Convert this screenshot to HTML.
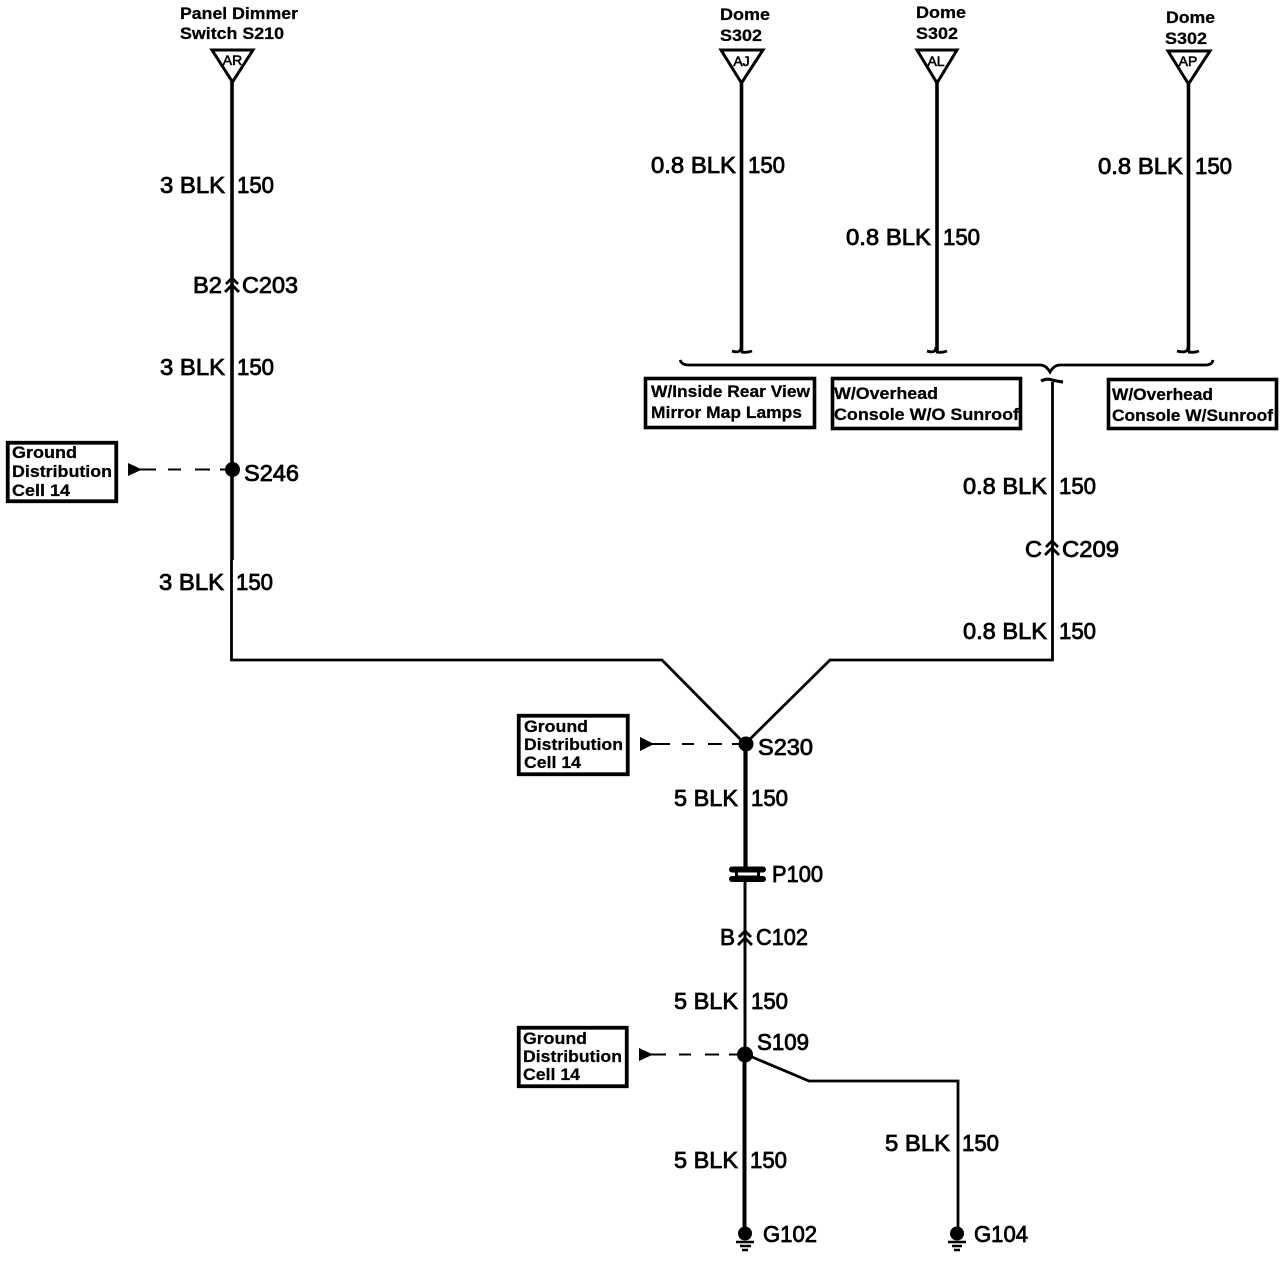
<!DOCTYPE html>
<html><head><meta charset="utf-8"><style>
html,body{margin:0;padding:0;background:#fff}
svg{display:block}
text{font-family:"Liberation Sans",sans-serif;fill:#000}
.m{font-size:23px;stroke:#000;stroke-width:.8}
.s{font-size:17px;font-weight:bold;stroke:#000;stroke-width:.25}
.t{font-size:14px;stroke:#000;stroke-width:.6}
.w{fill:none;stroke:#000;stroke-linejoin:miter}
</style></head><body>
<svg width="1284" height="1264" viewBox="0 0 1284 1264" xmlns="http://www.w3.org/2000/svg">
<rect width="1284" height="1264" fill="#fff"/>

<!-- wires -->
<path class="w" stroke-width="2.800" d="M231.500 560V660H662L745 744L830 660H1052.500V382"/>
<path class="w" stroke-width="3.600" d="M232 80V560"/>
<path class="w" stroke-width="3.600" d="M741.500 82V352M937 82V352M1188.500 84V352"/>
<path class="w" stroke-width="4.200" d="M745.500 744V868"/>
<path class="w" stroke-width="3" d="M745 880V1054"/>
<path class="w" stroke-width="4" d="M744.500 1054V1228"/>
<path class="w" stroke-width="2.800" d="M745 1054L809 1081H958V1228"/>

<!-- triangles -->
<path class="w" stroke-width="3" d="M212 50H253L232.500 82ZM721 50H763L741.500 83ZM917 50H957L937 83ZM1168 51H1210L1188.500 84Z"/>
<text class="t" x="232.500" y="65" text-anchor="middle">AR</text>
<text class="t" x="741.500" y="66" text-anchor="middle">AJ</text>
<text class="t" x="936" y="66" text-anchor="middle">AL</text>
<text class="t" x="1188" y="66" text-anchor="middle">AP</text>

<!-- top labels -->
<text class="s" x="180" y="19" textLength="118" lengthAdjust="spacingAndGlyphs">Panel Dimmer</text>
<text class="s" x="180" y="39" textLength="104" lengthAdjust="spacingAndGlyphs">Switch S210</text>
<text class="s" x="720" y="20" textLength="50" lengthAdjust="spacingAndGlyphs">Dome</text>
<text class="s" x="720" y="41" textLength="42" lengthAdjust="spacingAndGlyphs">S302</text>
<text class="s" x="916" y="18" textLength="50" lengthAdjust="spacingAndGlyphs">Dome</text>
<text class="s" x="916" y="39" textLength="42" lengthAdjust="spacingAndGlyphs">S302</text>
<text class="s" x="1166" y="23" textLength="49" lengthAdjust="spacingAndGlyphs">Dome</text>
<text class="s" x="1165" y="44" textLength="42" lengthAdjust="spacingAndGlyphs">S302</text>

<!-- wire labels -->
<text class="m" x="160" y="193" textLength="65" lengthAdjust="spacingAndGlyphs">3 BLK</text>
<text class="m" x="237" y="193" textLength="37" lengthAdjust="spacingAndGlyphs">150</text>
<text class="m" x="193" y="293" textLength="29" lengthAdjust="spacingAndGlyphs">B2</text>
<text class="m" x="242" y="293" textLength="56" lengthAdjust="spacingAndGlyphs">C203</text>
<text class="m" x="160" y="375" textLength="65" lengthAdjust="spacingAndGlyphs">3 BLK</text>
<text class="m" x="237" y="375" textLength="37" lengthAdjust="spacingAndGlyphs">150</text>
<text class="m" x="244" y="481" textLength="55" lengthAdjust="spacingAndGlyphs">S246</text>
<text class="m" x="159" y="590" textLength="65" lengthAdjust="spacingAndGlyphs">3 BLK</text>
<text class="m" x="236" y="590" textLength="37" lengthAdjust="spacingAndGlyphs">150</text>
<text class="m" x="651" y="173" textLength="85" lengthAdjust="spacingAndGlyphs">0.8 BLK</text>
<text class="m" x="748" y="173" textLength="37" lengthAdjust="spacingAndGlyphs">150</text>
<text class="m" x="846" y="245" textLength="85" lengthAdjust="spacingAndGlyphs">0.8 BLK</text>
<text class="m" x="943" y="245" textLength="37" lengthAdjust="spacingAndGlyphs">150</text>
<text class="m" x="1098" y="174" textLength="85" lengthAdjust="spacingAndGlyphs">0.8 BLK</text>
<text class="m" x="1195" y="174" textLength="37" lengthAdjust="spacingAndGlyphs">150</text>
<text class="m" x="963" y="494" textLength="84" lengthAdjust="spacingAndGlyphs">0.8 BLK</text>
<text class="m" x="1059" y="494" textLength="37" lengthAdjust="spacingAndGlyphs">150</text>
<text class="m" x="1025" y="557" textLength="17" lengthAdjust="spacingAndGlyphs">C</text>
<text class="m" x="1062" y="557" textLength="57" lengthAdjust="spacingAndGlyphs">C209</text>
<text class="m" x="963" y="639" textLength="84" lengthAdjust="spacingAndGlyphs">0.8 BLK</text>
<text class="m" x="1059" y="639" textLength="37" lengthAdjust="spacingAndGlyphs">150</text>
<text class="m" x="758" y="755" textLength="55" lengthAdjust="spacingAndGlyphs">S230</text>
<text class="m" x="674" y="806" textLength="64" lengthAdjust="spacingAndGlyphs">5 BLK</text>
<text class="m" x="751" y="806" textLength="37" lengthAdjust="spacingAndGlyphs">150</text>
<text class="m" x="772" y="882" textLength="51" lengthAdjust="spacingAndGlyphs">P100</text>
<text class="m" x="720" y="945" textLength="15" lengthAdjust="spacingAndGlyphs">B</text>
<text class="m" x="756" y="945" textLength="52" lengthAdjust="spacingAndGlyphs">C102</text>
<text class="m" x="674" y="1009" textLength="64" lengthAdjust="spacingAndGlyphs">5 BLK</text>
<text class="m" x="751" y="1009" textLength="37" lengthAdjust="spacingAndGlyphs">150</text>
<text class="m" x="757" y="1050" textLength="52" lengthAdjust="spacingAndGlyphs">S109</text>
<text class="m" x="674" y="1168" textLength="64" lengthAdjust="spacingAndGlyphs">5 BLK</text>
<text class="m" x="750" y="1168" textLength="37" lengthAdjust="spacingAndGlyphs">150</text>
<text class="m" x="885" y="1151" textLength="65" lengthAdjust="spacingAndGlyphs">5 BLK</text>
<text class="m" x="962" y="1151" textLength="37" lengthAdjust="spacingAndGlyphs">150</text>
<text class="m" x="763" y="1242" textLength="54" lengthAdjust="spacingAndGlyphs">G102</text>
<text class="m" x="974" y="1242" textLength="54" lengthAdjust="spacingAndGlyphs">G104</text>

<!-- connector chevrons -->
<g class="w" stroke-width="2.800">
<path d="M226 284L232 278L238 284M225 292L232 285L239 292"/>
<path d="M1046 547L1052 541L1058 547M1045 555L1052 548L1059 555"/>
<path d="M739 937L745 931L751 937M738 945L745 938L752 945"/>
</g>

<!-- brace and hook -->
<path class="w" stroke-width="2.800" d="M680 360Q682 365 688 365H1040Q1046 365 1050 372Q1054 365 1060 365H1206Q1212 365 1213 360"/>
<path class="w" stroke-width="3.200" d="M1041 381Q1047 378 1052 380Q1056 381 1063 382"/>
<path class="w" stroke-width="2.800" d="M732 351Q741 354 741 347M741 352Q747 353 752 351M927 351Q936 354 936 347M936 352Q942 353 947 351M1177 351Q1188 354 1188 347M1188 352Q1194 353 1199 351"/>

<!-- option boxes -->
<g class="w" stroke-width="3.600">
<rect x="645.500" y="378.500" width="169" height="49"/>
<rect x="832.500" y="378.500" width="188" height="50"/>
<rect x="1108.500" y="379.500" width="168" height="49"/>
</g>
<text class="s" x="651" y="397" textLength="159" lengthAdjust="spacingAndGlyphs">W/Inside Rear View</text>
<text class="s" x="651" y="418" textLength="151" lengthAdjust="spacingAndGlyphs">Mirror Map Lamps</text>
<text class="s" x="834" y="399" textLength="104" lengthAdjust="spacingAndGlyphs">W/Overhead</text>
<text class="s" x="834" y="420" textLength="185" lengthAdjust="spacingAndGlyphs">Console W/O Sunroof</text>
<text class="s" x="1112" y="400" textLength="101" lengthAdjust="spacingAndGlyphs">W/Overhead</text>
<text class="s" x="1112" y="421" textLength="161" lengthAdjust="spacingAndGlyphs">Console W/Sunroof</text>

<!-- ground distribution boxes -->
<g class="w" stroke-width="3.800">
<rect x="7.750" y="442.750" width="108.500" height="58.500"/>
<rect x="518.750" y="715.750" width="109" height="58.500"/>
<rect x="518.750" y="1027.750" width="108" height="58.500"/>
</g>
<text class="s" x="12" y="458" textLength="65" lengthAdjust="spacingAndGlyphs">Ground</text>
<text class="s" x="12" y="477" textLength="100" lengthAdjust="spacingAndGlyphs">Distribution</text>
<text class="s" x="12" y="496" textLength="58" lengthAdjust="spacingAndGlyphs">Cell 14</text>
<text class="s" x="524" y="732" textLength="64" lengthAdjust="spacingAndGlyphs">Ground</text>
<text class="s" x="524" y="750" textLength="99" lengthAdjust="spacingAndGlyphs">Distribution</text>
<text class="s" x="524" y="768" textLength="57" lengthAdjust="spacingAndGlyphs">Cell 14</text>
<text class="s" x="523" y="1044" textLength="64" lengthAdjust="spacingAndGlyphs">Ground</text>
<text class="s" x="523" y="1062" textLength="99" lengthAdjust="spacingAndGlyphs">Distribution</text>
<text class="s" x="523" y="1080" textLength="57" lengthAdjust="spacingAndGlyphs">Cell 14</text>

<!-- dashed refs -->
<path d="M128 463L142 469.500L128 476Z"/>
<path class="w" stroke-width="2" d="M140 469.500H156M168 469.500H181M195 469.500H210M220 469.500H228"/>
<path d="M640 737L654 744L640 751Z"/>
<path class="w" stroke-width="2" d="M652 744H670M682 744H694M708 744H722M732 744H742"/>
<path d="M639 1048L653 1054.500L639 1061Z"/>
<path class="w" stroke-width="2" d="M651 1054.500H666M679 1054.500H691M705 1054.500H719M729 1054.500H740"/>

<!-- splices -->
<circle cx="232.500" cy="469.500" r="7.500"/>
<circle cx="746" cy="744" r="7.500"/>
<circle cx="745" cy="1054.500" r="8"/>

<!-- P100 -->
<rect x="729" y="866.500" width="37" height="6" rx="3"/>
<rect x="729" y="876" width="37" height="6" rx="3"/>
<rect x="735" y="870" width="25" height="9"/>
<rect x="738" y="872.500" width="19" height="3" fill="#fff"/>

<!-- grounds -->
<circle cx="745" cy="1233.500" r="7"/>
<circle cx="957" cy="1233.500" r="7"/>
<path class="w" stroke-width="2.400" d="M736 1242H754M740 1246H751M742 1250H748M948 1242H966M952 1246H962M954 1250H960"/>
</svg>
</body></html>
